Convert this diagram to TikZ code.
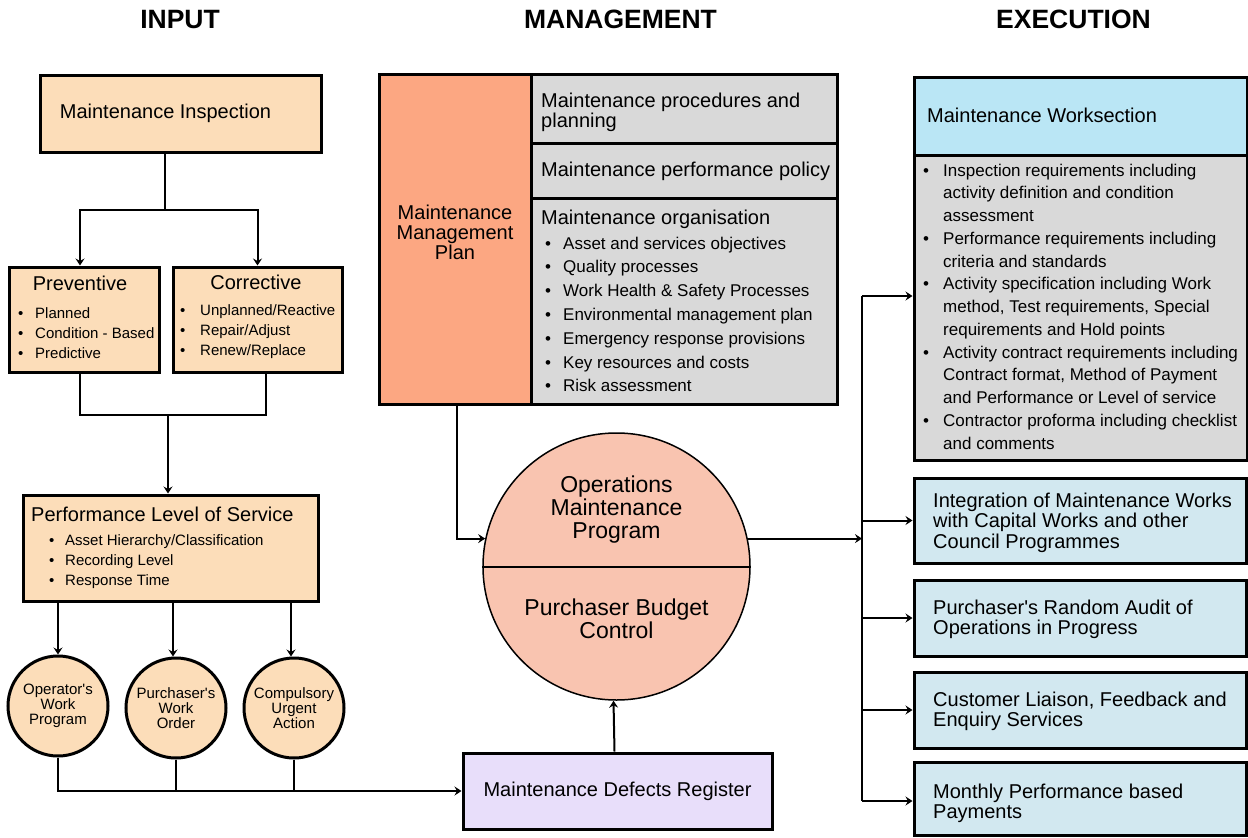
\documentclass[tikz,border=0pt]{standalone}
\usepackage{fontspec}
\setmainfont{Liberation Sans}
\usetikzlibrary{arrows.meta,shapes}

\definecolor{peach}{HTML}{FCDDB9}
\definecolor{salmon}{HTML}{FCA782}
\definecolor{cellgray}{HTML}{D9D9D9}
\definecolor{pinkish}{HTML}{F9C4B0}
\definecolor{lavender}{HTML}{E8DEFA}
\definecolor{skyblue}{HTML}{BAE6F5}
\definecolor{paleblue}{HTML}{D2E8F0}

\newcommand{\bl}[1]{\makebox[#1][l]{\textbullet}}

\tikzset{
  box/.style={draw, line width=3pt, inner sep=0pt, fill=peach},
  hdr/.style={anchor=base, inner sep=0pt, font=\fontsize{26.5}{26.5}\selectfont\bfseries},
  txt/.style={anchor=base west, inner sep=0pt},
  big/.style={font=\fontsize{20}{20}\selectfont},
  small/.style={font=\fontsize{15}{15}\selectfont},
  line/.style={line width=2pt},
  arr/.style={line width=2pt, -{Stealth[length=7pt,width=9pt,inset=2.5pt]}}
}

\begin{document}
\begin{tikzpicture}[x=1pt,y=-1pt]
\useasboundingbox (0,0) rectangle (1248,838);

% column headings
\node[hdr] (hin) at (180,28) {INPUT};
\node[hdr] (hman) at (620.5,28) {MANAGEMENT};
\node[hdr] (hexe) at (1073.5,28) {EXECUTION};

% input column
\node[box, big, minimum width=281, minimum height=77] (insp) at (180.5,113.5) {Maintenance Inspection\kern30pt};
\node[box, minimum width=150, minimum height=105] (prev) at (84,319.5) {};
\node[box, minimum width=169, minimum height=105] (corr) at (257.5,319.5) {};
\node[big, anchor=base, inner sep=0pt] (prevhd) at (80,290) {Preventive};
\node[txt, font=\fontsize{15}{20}\selectfont] (prevlist) at (18,318) {\parbox[t]{140pt}{%
\bl{17pt}Planned\\
\bl{17pt}Condition - Based\\
\bl{17pt}Predictive}};
\node[big, anchor=base, inner sep=0pt] (corrhd) at (256,289) {Corrective};
\node[txt, font=\fontsize{15}{20}\selectfont] (corrlist) at (180,315) {\parbox[t]{160pt}{%
\bl{20pt}Unplanned/Reactive\\
\bl{20pt}Repair/Adjust\\
\bl{20pt}Renew/Replace}};

\node[box, minimum width=295, minimum height=106] (perf) at (170.5,548) {};
\node[txt, big] (perfhd) at (31,521) {Performance Level of Service};
\node[txt, font=\fontsize{15}{20}\selectfont] (perflist) at (49,545) {\parbox[t]{260pt}{%
\bl{16pt}Asset Hierarchy/Classification\\
\bl{16pt}Recording Level\\
\bl{16pt}Response Time}};

\node[box, circle, small, align=center, minimum size=100] (owp) at (58,706) {Operator\textquotesingle s\\Work\\Program};
\node[box, circle, small, align=center, minimum size=100] (pwo) at (176,708) {Purchaser\textquotesingle s\\Work\\Order};
\node[box, circle, small, align=center, minimum size=100] (cua) at (294,708) {Compulsory\\Urgent\\Action};

\node[box, big, fill=lavender, minimum width=309, minimum height=76] (reg) at (617.5,791) {Maintenance Defects Register};

% management column
\node[box, fill=salmon, minimum width=152, minimum height=330] (mmp) at (455,239) {};
\node[big, align=center, inner sep=0pt] (mmptxt) at (455,232) {Maintenance\\Management\\Plan};
\node[box, fill=cellgray, minimum width=306, minimum height=69] (mproc) at (684,108.5) {};
\node[box, fill=cellgray, minimum width=306, minimum height=55] (mperf) at (684,170.5) {};
\node[box, fill=cellgray, minimum width=306, minimum height=206] (morg) at (684,301) {};
\node[txt, big] (mproctxt) at (541,107) {\parbox[t]{300pt}{Maintenance procedures and\\planning}};
\node[txt, big] (mperftxt) at (541,176) {Maintenance performance policy};
\node[txt, big] (morghd) at (541,224) {Maintenance organisation};
\node[txt, font=\fontsize{17}{23.83}\selectfont] (morglist) at (545,249) {\parbox[t]{290pt}{%
\bl{18pt}Asset and services objectives\\
\bl{18pt}Quality processes\\
\bl{18pt}Work Health \& Safety Processes\\
\bl{18pt}Environmental management plan\\
\bl{18pt}Emergency response provisions\\
\bl{18pt}Key resources and costs\\
\bl{18pt}Risk assessment}};

\node[draw, circle, line width=1.5pt, fill=pinkish, inner sep=0pt, minimum size=267] (omp) at (616.5,566.5) {};
\draw[line] (omp.west) -- (omp.east);
\node[align=center, inner sep=0pt, font=\fontsize{23}{23}\selectfont] (omptop) at (616.5,510) {Operations\\Maintenance\\Program};
\node[align=center, inner sep=0pt, font=\fontsize{23}{23}\selectfont] (ompbot) at (616.5,618.5) {Purchaser Budget\\Control};

% execution column
\node[box, fill=skyblue, minimum width=333, minimum height=78] (wshead) at (1080.5,116) {};
\node[box, fill=cellgray, minimum width=333, minimum height=305] (wslist) at (1080.5,307.5) {};
\node[txt, big] (wsheadtxt) at (927,122) {Maintenance Worksection};
\node[txt, font=\fontsize{17}{22.75}\selectfont] (wsitems) at (923,176) {\parbox[t]{320pt}{%
\bl{20pt}Inspection requirements including\\
\hspace*{20pt}activity definition and condition\\
\hspace*{20pt}assessment\\
\bl{20pt}Performance requirements including\\
\hspace*{20pt}criteria and standards\\
\bl{20pt}Activity specification including Work\\
\hspace*{20pt}method, Test requirements, Special\\
\hspace*{20pt}requirements and Hold points\\
\bl{20pt}Activity contract requirements including\\
\hspace*{20pt}Contract format, Method of Payment\\
\hspace*{20pt}and Performance or Level of service\\
\bl{20pt}Contractor proforma including checklist\\
\hspace*{20pt}and comments}};

\node[box, fill=paleblue, minimum width=332, minimum height=85] (integ) at (1080,520.5) {};
\node[box, fill=paleblue, minimum width=332, minimum height=76] (audit) at (1080,618) {};
\node[box, fill=paleblue, minimum width=332, minimum height=76] (liaison) at (1080,710) {};
\node[box, fill=paleblue, minimum width=332, minimum height=73] (payment) at (1080,798.5) {};
\node[txt, font=\fontsize{20}{20.5}\selectfont] (integtxt) at (933,507) {\parbox[t]{310pt}{Integration of Maintenance Works\\with Capital Works and other\\Council Programmes}};
\node[txt, font=\fontsize{20}{20.5}\selectfont] (audittxt) at (933,614) {\parbox[t]{310pt}{Purchaser\textquotesingle s Random Audit of\\Operations in Progress}};
\node[txt, font=\fontsize{20}{20.5}\selectfont] (liaisontxt) at (933,706) {\parbox[t]{310pt}{Customer Liaison, Feedback and\\Enquiry Services}};
\node[txt, font=\fontsize{20}{20.5}\selectfont] (paymenttxt) at (933,798) {\parbox[t]{310pt}{Monthly Performance based\\Payments}};

% connectors
\coordinate (j1) at (165,210);
\coordinate (j2) at (168,415);
\coordinate (bustop) at (862,296);
\coordinate (busbot) at (862,801);

\draw[line] (insp.south -| j1) -- (j1);
\draw[arr] (j1) -| ([xshift=-4pt]prev.north);
\draw[arr] (j1) -| (corr.north);
\draw[line] ([xshift=-4pt]prev.south) |- (j2) -| ([xshift=8.5pt]corr.south);
\draw[arr] (j2) -- (j2 |- perf.north);

\draw[arr] (perf.south -| owp.north) -- (owp.north);
\draw[arr] ([xshift=-3pt]perf.south -| pwo.north) -- ([xshift=-3pt]pwo.north);
\draw[arr] ([xshift=-3pt]perf.south -| cua.north) -- ([xshift=-3pt]cua.north);

\draw[arr] (owp.south) |- (reg.west);
\draw[line] (pwo.south) -- (pwo.south |- reg.west);
\draw[line] (cua.south) -- (cua.south |- reg.west);
\draw[arr] ([xshift=-3pt]reg.north) -- ([xshift=-3pt]omp.south);

\draw[arr] ([xshift=2pt]mmp.south) |- (omp.168);
\draw[arr] (omp.12) -- (omp.12 -| bustop);

\draw[line] (bustop) -- (busbot);
\draw[arr] (bustop) -- (bustop -| wslist.west);
\draw[arr] (bustop |- integ.west) -- (integ.west);
\draw[arr] (bustop |- audit.west) -- (audit.west);
\draw[arr] (bustop |- liaison.west) -- (liaison.west);
\draw[arr] (busbot) -- (busbot -| payment.west);
\end{tikzpicture}
\end{document}
